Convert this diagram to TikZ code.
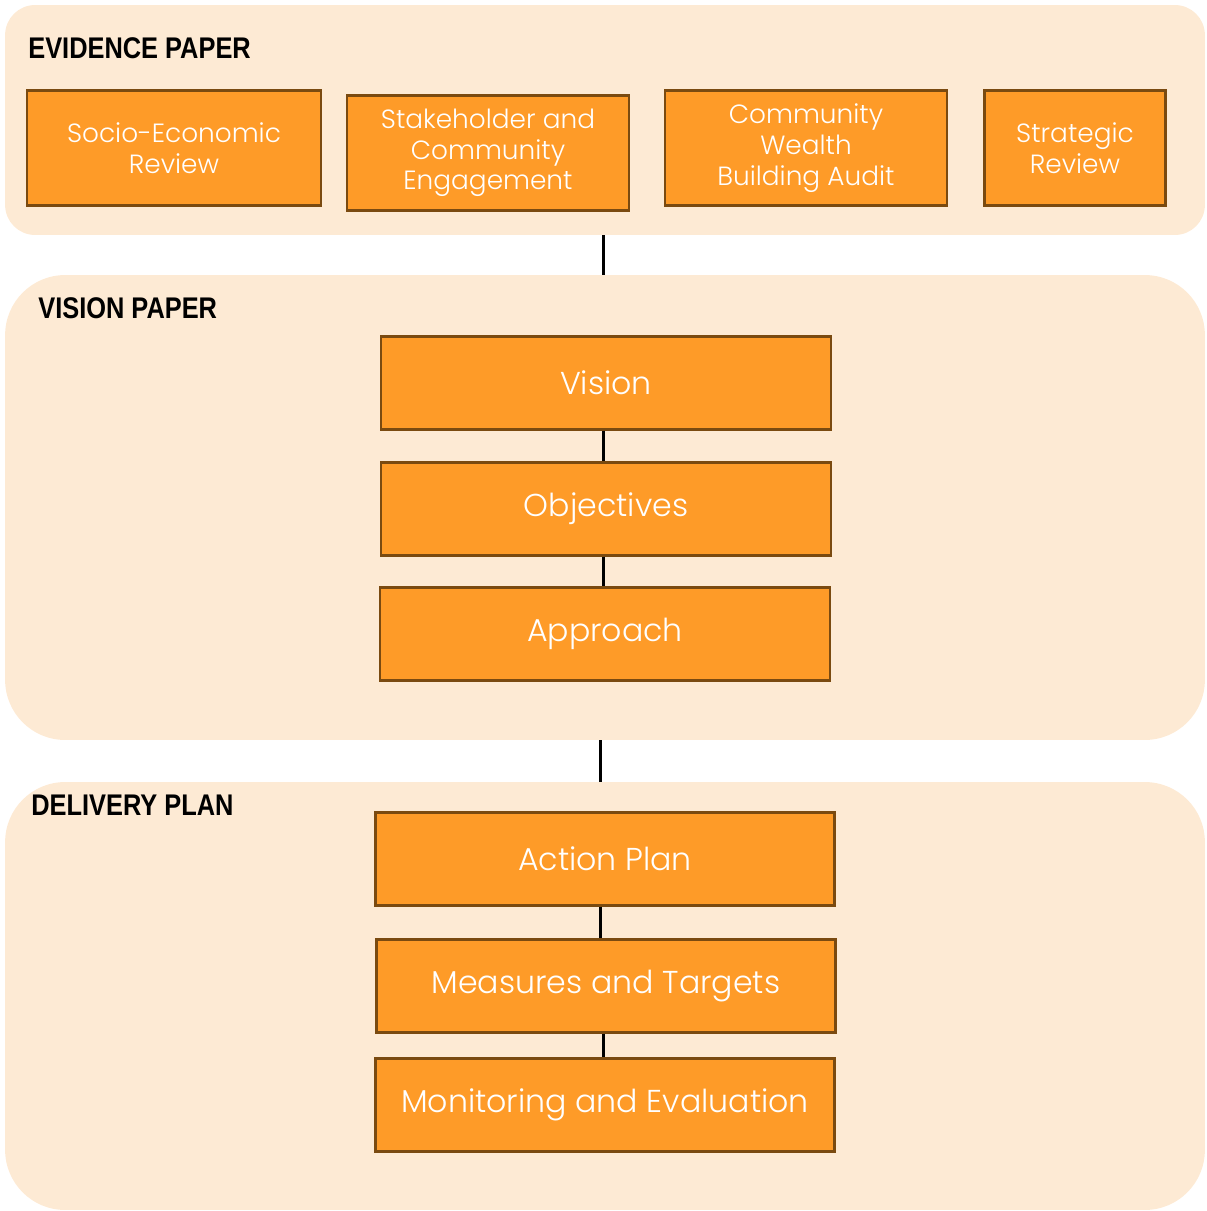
\documentclass[tikz,border=0pt]{standalone}
\usepackage{fontspec}
\setmainfont{Poppins}[UprightFont=* Light]
\newfontfamily\headfont[FakeStretch=0.85]{Liberation Sans}
\usepackage{xcolor}
\usetikzlibrary{positioning}
\definecolor{panelfill}{RGB}{253,234,212}
\definecolor{boxfill}{RGB}{254,155,40}
\definecolor{boxline}{RGB}{122,74,16}
\tikzset{
  panel/.style={fill=panelfill, minimum width=24cm, inner sep=0pt},
  item/.style={draw=boxline, fill=boxfill, line width=1.6pt, text=white, align=center,
               minimum height=2.3cm, font=\fontsize{15}{17.5}\selectfont},
  stage/.style={item, minimum width=9cm, minimum height=1.85cm, font=\fontsize{18}{21}\selectfont},
  heading/.style={anchor=west, inner sep=0pt, font=\headfont\bfseries\fontsize{17}{19}\selectfont},
  link/.style={line width=1.7pt}
}
\begin{document}
\begin{tikzpicture}[x=0.02cm, y=-0.02cm]
  \useasboundingbox (0,0) rectangle (1207,1211);
  % three background panels
  \node[panel, minimum height=4.6cm, rounded corners=0.6cm] (ev) at (605,120) {};
  \node[panel, minimum height=9.3cm, rounded corners=1.2cm] (vis) at (605,507.5) {};
  \node[panel, minimum height=8.56cm, rounded corners=1.2cm] (del) at (605,996) {};
  \node[heading] (evh) at (28,48) {EVIDENCE PAPER};
  \node[heading] (vish) at (38,308) {VISION PAPER};
  \node[heading] (delh) at (31,805) {DELIVERY PLAN};
  % evidence
  \node[item, minimum width=5.88cm] (ser) at (174,148) {Socio-Economic\\Review};
  \node[item, minimum width=5.64cm] (sce) at (488,153) {Stakeholder and\\Community\\Engagement};
  \node[item, minimum width=5.64cm] (cwb) at (806,148) {Community\\Wealth\\Building Audit};
  \node[item, minimum width=3.62cm] (str) at (1075,148) {Strategic\\Review};
  % vision
  \node[stage] (vsn) at (606,383) {Vision};
  \node[stage] (obj) at (606,509) {Objectives};
  \node[stage] (app) at (605,634) {Approach};
  % delivery
  \node[stage, minimum width=9.18cm] (act) at (605,859) {Action Plan};
  \node[stage, minimum width=9.18cm] (mea) at (606,986) {Measures and Targets};
  \node[stage, minimum width=9.18cm] (mon) at (605,1105) {Monitoring and Evaluation};
  \draw[link] ([xshift=-1pt]ev.south) -- ([xshift=-1pt]vis.north);
  \draw[link] ([xshift=-2.3pt]vis.south) -- ([xshift=-2.3pt]del.north);
  \foreach \a/\b/\s in {vsn/obj/-1.7, obj/app/-1.7, act/mea/-2.8, mea/mon/-1.7}
    \draw[link] ([xshift=\s pt]\a.south) -- ([xshift=\s pt]\a.south |- \b.north);
\end{tikzpicture}
\end{document}
